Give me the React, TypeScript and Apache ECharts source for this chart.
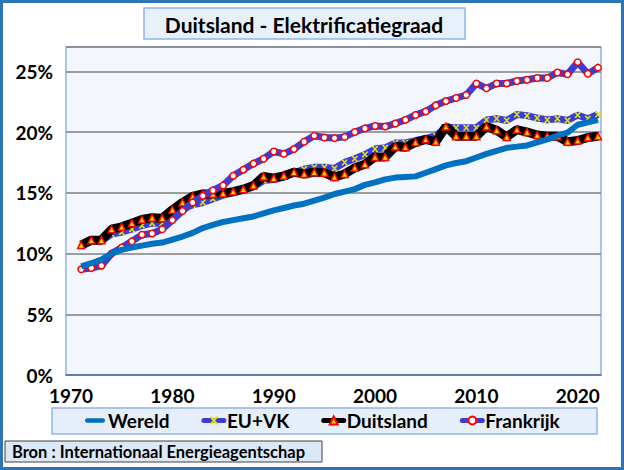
import React, { useEffect, useRef } from "react";
import * as echarts from "echarts";

const years: number[] = [];
for (let y = 1971; y <= 2022; y++) years.push(y);

const wereld = [
  8.95, 9.2, 9.5, 10.0, 10.3, 10.5, 10.65, 10.8, 10.9, 11.15,
  11.4, 11.7, 12.1, 12.35, 12.6, 12.75, 12.9, 13.05, 13.3, 13.55,
  13.75, 13.95, 14.1, 14.35, 14.6, 14.9, 15.1, 15.3, 15.65, 15.85,
  16.1, 16.25, 16.3, 16.35, 16.65, 16.95, 17.25, 17.45, 17.6, 17.9,
  18.2, 18.45, 18.7, 18.8, 18.9, 19.15, 19.4, 19.7, 19.95, 20.6,
  20.8, 21.0,
];
const euvk = [
  10.6, 11.0, 11.05, 11.6, 11.75, 12.0, 12.3, 12.5, 12.5, 13.2,
  13.7, 14.0, 14.2, 14.5, 14.8, 15.0, 15.2, 15.5, 16.0, 16.1,
  16.3, 16.6, 16.95, 17.1, 17.1, 17.0, 17.5, 17.8, 18.15, 18.6,
  18.7, 19.1, 19.1, 19.3, 19.45, 19.7, 20.4, 20.35, 20.35, 20.35,
  21.0, 21.1, 20.95, 21.45, 21.35, 21.15, 21.0, 21.1, 20.95, 21.4,
  21.1, 21.45,
];
const duitsland = [
  10.7, 11.1, 11.1, 12.0, 12.2, 12.5, 12.8, 12.95, 12.9, 13.6,
  14.2, 14.7, 14.9, 14.9, 14.95, 15.1, 15.3, 15.6, 16.35, 16.2,
  16.4, 16.7, 16.55, 16.7, 16.65, 16.3, 16.55, 17.05, 17.35, 17.95,
  17.95, 18.8, 18.75, 19.15, 19.4, 19.2, 20.45, 19.65, 19.65, 19.65,
  20.45, 20.15, 19.6, 20.2, 20.0, 19.75, 19.65, 19.65, 19.2, 19.3,
  19.55, 19.65,
];
const frankrijk = [
  8.7, 8.8, 9.0, 10.0, 10.5, 11.0, 11.55, 11.65, 12.0, 12.75,
  13.5, 14.2, 14.75, 15.2, 15.6, 16.4, 16.9, 17.4, 17.8, 18.4,
  18.2, 18.6, 19.2, 19.7, 19.55, 19.5, 19.6, 20.0, 20.3, 20.5,
  20.45, 20.7, 21.0, 21.4, 21.7, 22.2, 22.55, 22.8, 23.05, 24.0,
  23.6, 24.0, 24.0, 24.2, 24.3, 24.45, 24.45, 24.9, 24.75, 25.75,
  24.8, 25.3,
];
const xTicks = [1970, 1980, 1990, 2000, 2010, 2020];
const seriesNames = ["Wereld", "EU+VK", "Duitsland", "Frankrijk"];
const titleText = "Duitsland - Elektrificatiegraad";
const sourceText = "Bron : Internationaal Energieagentschap";

const FONT = "Lato";
const crossSymbol =
  "path://M0,0 L2.5,0 L5,3.2 L7.5,0 L10,0 L10,1.5 L6.5,5 L10,8.5 L10,10 L7.5,10 L5,6.8 L2.5,10 L0,10 L0,8.5 L3.5,5 L0,1.5 Z";
const barIcon =
  "path://M2.5,0 L19.5,0 A2.5,2.5 0 0 1 19.5,5 L2.5,5 A2.5,2.5 0 0 1 2.5,0 Z";

const pairs = (vals: number[]) => years.map((y, i) => [y, vals[i]]);

export default function App() {
  const ref = useRef<HTMLDivElement>(null);
  useEffect(() => {
    if (!ref.current) return;
    const chart = echarts.init(ref.current, undefined, { renderer: "svg" });
    chart.setOption({
      animation: false,
      backgroundColor: "#ffffff",
      textStyle: { fontFamily: FONT },
      grid: {
        left: 66,
        top: 47,
        right: 23,
        bottom: 95,
        show: true,
        backgroundColor: "#f3f7fd",
        borderColor: "#8fb4f0",
        borderWidth: 1.5,
      },
      xAxis: {
        type: "value",
        min: 1969.5,
        max: 2022.3,
        axisLine: { show: true, lineStyle: { color: "#5577aa", width: 1.5 } },
        axisTick: { show: false },
        splitLine: { show: false },
        axisLabel: {
          customValues: xTicks,
          color: "#000",
          fontFamily: FONT,
          fontWeight: "bold",
          fontSize: 19,
          margin: 11,
          formatter: (v: number) => String(v),
        },
      },
      yAxis: {
        type: "value",
        min: 0,
        max: 27,
        interval: 5,
        axisLine: { show: false },
        axisTick: { show: false },
        splitLine: { show: true, lineStyle: { color: "#7f7f7f", width: 1.5 } },
        axisLabel: {
          color: "#000",
          fontFamily: FONT,
          fontWeight: "bold",
          fontSize: 19,
          margin: 13,
          formatter: (v: number) => (v % 5 === 0 ? v + "%" : ""),
        },
      },
      legend: {
        left: 85,
        top: 411,
        padding: 0,
        itemGap: 32,
        itemWidth: 20,
        itemHeight: 10,
        lineStyle: { width: 5, cap: "round" },
        data: [
          { name: "Wereld", icon: barIcon },
          seriesNames[1],
          seriesNames[2],
          seriesNames[3],
        ],
        textStyle: {
          color: "#000",
          fontFamily: FONT,
          fontWeight: "bold",
          fontSize: 19,
          padding: [0, 0, 0, -2],
        },
        z: 10,
      },
      graphic: [
        {
          type: "rect",
          shape: { x: 1.5, y: 1.5, width: 621, height: 467 },
          style: { fill: "none", stroke: "#2e75b6", lineWidth: 3 },
          z: 100,
        },
        {
          type: "rect",
          shape: { x: 144, y: 8, width: 321, height: 31 },
          style: { fill: "#e8f0fb", stroke: "#8db4f2", lineWidth: 1.5 },
          z: 1,
        },
        {
          type: "text",
          x: 304,
          y: 24,
          style: {
            text: titleText,
            fill: "#000",
            font: "bold 21px Lato",
            align: "center",
            verticalAlign: "middle",
          },
          z: 2,
        },
        {
          type: "rect",
          shape: { x: 52, y: 408, width: 545, height: 26 },
          style: { fill: "#e6eef9", stroke: "#8fb4f0", lineWidth: 1.5 },
          z: 1,
        },
        {
          type: "rect",
          shape: { x: 5, y: 441, width: 317, height: 21 },
          style: { fill: "#dbe8f7", stroke: "#404040", lineWidth: 1 },
          z: 1,
        },
        {
          type: "text",
          x: 12,
          y: 452,
          style: {
            text: sourceText,
            fill: "#000",
            font: "bold 16.5px Lato",
            align: "left",
            verticalAlign: "middle",
          },
          z: 2,
        },
      ],
      series: [
        {
          name: "Wereld",
          type: "line",
          data: pairs(wereld),
          showSymbol: false,
          symbol: "none",
          symbolKeepAspect: true,
          lineStyle: { color: "#0070c0", width: 6 },
          itemStyle: { color: "#0070c0" },
          z: 6,
        },
        {
          name: "EU+VK",
          type: "line",
          data: pairs(euvk),
          symbol: crossSymbol,
          symbolSize: 6,
          lineStyle: { color: "#3a3ed8", width: 7 },
          itemStyle: { color: "#e6e600", borderWidth: 0 },
          z: 3,
        },
        {
          name: "Duitsland",
          type: "line",
          data: pairs(duitsland),
          symbol: "triangle",
          symbolSize: 7,
          lineStyle: { color: "#000000", width: 9 },
          itemStyle: { color: "#ffd400", borderColor: "#ff0000", borderWidth: 1.5 },
          z: 4,
        },
        {
          name: "Frankrijk",
          type: "line",
          data: pairs(frankrijk),
          symbol: "circle",
          symbolSize: 6.5,
          lineStyle: { color: "#3a3ed8", width: 7 },
          itemStyle: { color: "#ffffff", borderColor: "#ff0000", borderWidth: 1.5 },
          z: 5,
        },
      ],
    });
    return () => chart.dispose();
  }, []);
  return (
    <div
      ref={ref}
      style={{ position: "absolute", left: 0, top: 0, width: 624, height: 470 }}
    />
  );
}
